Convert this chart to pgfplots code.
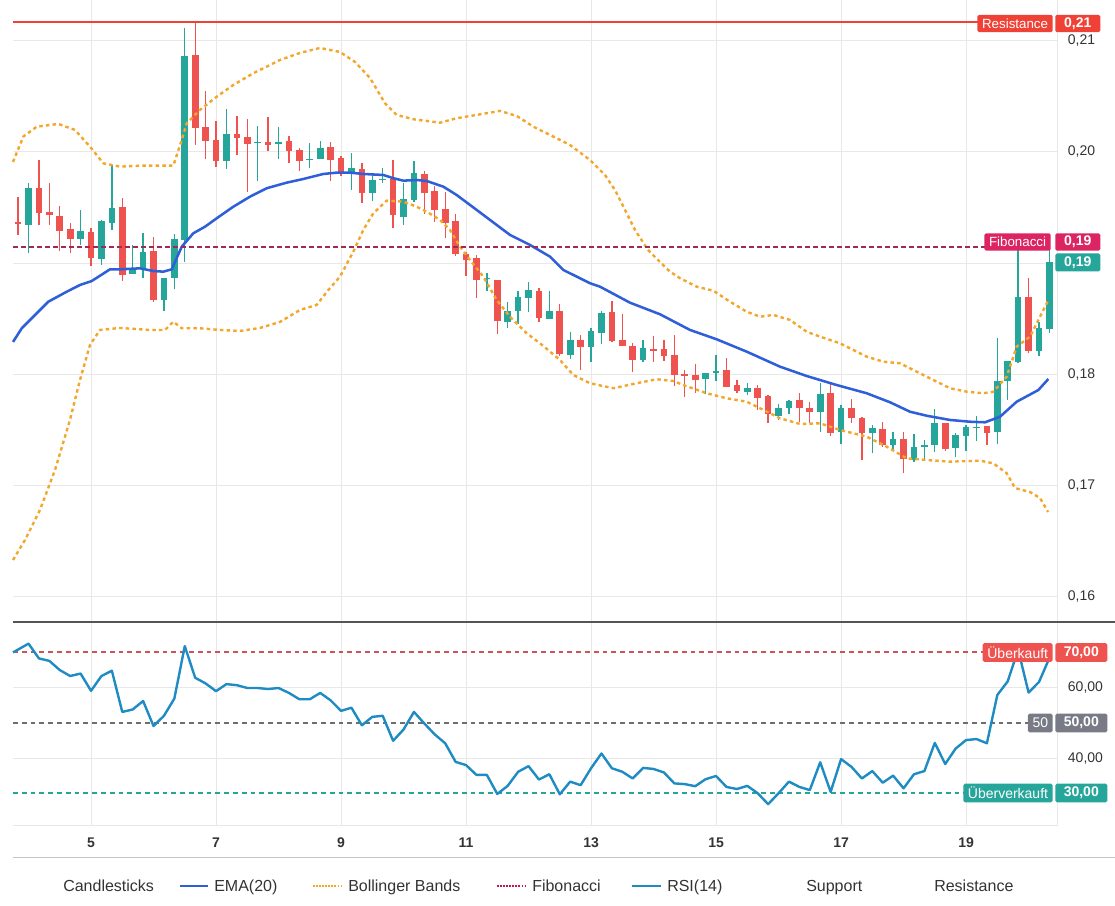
\documentclass[border=0pt]{standalone}
\usepackage{pgfplots}
\pgfplotsset{compat=1.18}
\usepackage{pgfplotstable}
\usepackage{fontspec}
\setmainfont{Liberation Sans}
\definecolor{upc}{HTML}{26A69A}
\definecolor{downc}{HTML}{EF5350}
\definecolor{emac}{HTML}{2F5FD8}
\definecolor{bbc}{HTML}{F2A62A}
\definecolor{fibc}{HTML}{9E2A55}
\definecolor{fibbox}{HTML}{DC2462}
\definecolor{fibleg}{HTML}{C2185B}
\definecolor{resc}{HTML}{EF4136}
\definecolor{rsic}{HTML}{1E8BC3}
\definecolor{obc}{HTML}{C9545A}
\definecolor{midc}{HTML}{6E6E6E}
\definecolor{midbox}{HTML}{787B86}
\definecolor{gridc}{HTML}{E8E8E8}
\definecolor{tickc}{HTML}{333333}
\definecolor{sepc}{HTML}{555555}

\pgfplotstableread{
i O H L C
1 0.19344 0.19724 0.19095 0.19674
6 0.19221 0.19479 0.19164 0.19290
8 0.19041 0.19389 0.18984 0.19382
9 0.19364 0.19883 0.19299 0.19494
11 0.18903 0.19164 0.18900 0.18939
12 0.18954 0.19275 0.18865 0.19098
14 0.18672 0.18870 0.18573 0.18870
15 0.18870 0.19260 0.18766 0.19218
16 0.19209 0.21117 0.19014 0.20863
20 0.19922 0.20387 0.19847 0.20162
23 0.20081 0.20234 0.19742 0.20090
25 0.20075 0.20227 0.19934 0.20087
28 0.19925 0.20078 0.19859 0.19937
29 0.19937 0.20099 0.19934 0.20033
32 0.19814 0.19994 0.19658 0.19856
34 0.19634 0.19814 0.19559 0.19748
35 0.19748 0.19859 0.19719 0.19757
37 0.19418 0.19719 0.19344 0.19577
38 0.19568 0.19919 0.19553 0.19811
45 0.18856 0.18910 0.18750 0.18865
47 0.18474 0.18654 0.18415 0.18571
48 0.18573 0.18750 0.18451 0.18694
49 0.18690 0.18834 0.18564 0.18759
51 0.18499 0.18753 0.18496 0.18571
53 0.18175 0.18384 0.18139 0.18310
55 0.18250 0.18415 0.18115 0.18391
56 0.18375 0.18571 0.18274 0.18555
60 0.18130 0.18310 0.18109 0.18238
66 0.17959 0.18011 0.17822 0.18011
67 0.18011 0.18175 0.17944 0.18034
70 0.17845 0.17921 0.17815 0.17881
73 0.17629 0.17735 0.17591 0.17701
74 0.17696 0.17770 0.17642 0.17761
77 0.17665 0.17921 0.17485 0.17824
79 0.17480 0.17726 0.17372 0.17696
82 0.17477 0.17546 0.17291 0.17521
84 0.17366 0.17485 0.17321 0.17417
86 0.17231 0.17465 0.17216 0.17345
87 0.17351 0.17411 0.17231 0.17366
88 0.17366 0.17690 0.17306 0.17566
90 0.17342 0.17477 0.17261 0.17456
91 0.17450 0.17546 0.17315 0.17530
92 0.17521 0.17627 0.17405 0.17530
94 0.17485 0.18331 0.17372 0.17941
95 0.17944 0.18121 0.17770 0.18121
96 0.18115 0.19179 0.18100 0.18699
98 0.18214 0.18474 0.18166 0.18415
99 0.18409 0.19164 0.18376 0.19014
}\greentab

\pgfplotstableread{
i O H L C
0 0.19373 0.19598 0.19254 0.19355
2 0.19674 0.19928 0.19344 0.19454
3 0.19461 0.19724 0.19344 0.19436
4 0.19425 0.19515 0.19113 0.19292
5 0.19305 0.19364 0.19095 0.19221
7 0.19278 0.19314 0.18975 0.19050
10 0.19506 0.19584 0.18843 0.18897
13 0.19110 0.19239 0.18654 0.18669
17 0.20872 0.21157 0.20063 0.20218
18 0.20227 0.20551 0.19934 0.20102
19 0.20108 0.20281 0.19862 0.19922
21 0.20162 0.20324 0.19973 0.20129
22 0.20138 0.20297 0.19643 0.20072
24 0.20090 0.20317 0.20012 0.20066
26 0.20102 0.20144 0.19898 0.20012
27 0.20018 0.20033 0.19832 0.19919
30 0.20048 0.20087 0.19739 0.19928
31 0.19946 0.19964 0.19784 0.19814
33 0.19847 0.19904 0.19544 0.19634
36 0.19757 0.19928 0.19319 0.19436
39 0.19802 0.19832 0.19443 0.19634
40 0.19649 0.19694 0.19373 0.19479
41 0.19488 0.19643 0.19230 0.19364
42 0.19380 0.19440 0.19068 0.19083
43 0.19083 0.19104 0.18885 0.19029
44 0.19047 0.19071 0.18690 0.18849
46 0.18849 0.18849 0.18361 0.18483
50 0.18750 0.18775 0.18474 0.18510
52 0.18571 0.18634 0.18169 0.18184
54 0.18310 0.18355 0.18040 0.18250
57 0.18559 0.18660 0.18289 0.18301
58 0.18310 0.18541 0.18256 0.18259
59 0.18256 0.18286 0.18025 0.18130
61 0.18229 0.18346 0.18115 0.18211
62 0.18229 0.18310 0.18124 0.18166
63 0.18175 0.18355 0.17899 0.17995
64 0.18004 0.18040 0.17800 0.17986
65 0.17995 0.18091 0.17836 0.17950
68 0.18040 0.18145 0.17885 0.17890
69 0.17905 0.17950 0.17831 0.17854
71 0.17881 0.17905 0.17681 0.17786
72 0.17806 0.17815 0.17566 0.17642
75 0.17770 0.17831 0.17575 0.17696
76 0.17701 0.17755 0.17566 0.17665
78 0.17831 0.17921 0.17447 0.17477
80 0.17696 0.17777 0.17566 0.17606
81 0.17606 0.17620 0.17231 0.17471
83 0.17507 0.17570 0.17351 0.17366
85 0.17417 0.17485 0.17112 0.17237
89 0.17566 0.17566 0.17315 0.17327
93 0.17537 0.17537 0.17366 0.17477
97 0.18699 0.18865 0.18190 0.18214
}\redtab

\begin{document}
\begin{tikzpicture}
\path[use as bounding box] (0pt,0pt) rectangle (836.25pt,679.5pt);

% ---------------- price panel ----------------
\begin{axis}[
  at={(9.75pt,213pt)}, anchor=south west,
  scale only axis, width=783pt, height=466.5pt,
  xmin=-0.49, xmax=99.73, ymin=0.15775, ymax=0.21366,
  axis x line*=bottom, axis y line*=right,
  x axis line style={draw=none},
  y axis line style={draw=gridc, line width=0.75pt},
  xtick={7,19,31,43,55,67,79,91}, xticklabels={},
  ytick={0.16,0.17,0.18,0.20,0.21},
  extra y ticks={0.19}, extra y tick labels={},
  grid=major, major grid style={draw=gridc, line width=0.75pt},
  major tick length=0pt,
  yticklabel style={font=\fontsize{10.5}{12}\selectfont, text=tickc, anchor=west, inner sep=0pt, xshift=8pt,
     /pgf/number format/.cd, fixed, fixed zerofill, precision=2, use comma},
  /pgf/number format/assume math mode=true,
  clip=false,
]
% wicks
\addplot[draw=none, forget plot, error bars/.cd, y dir=plus, y explicit, error mark=none,
  error bar style={draw=upc, line width=1pt}]
  table[x=i, y=L, y error expr=\thisrow{H}-\thisrow{L}] {\greentab};
\addplot[draw=none, forget plot, error bars/.cd, y dir=plus, y explicit, error mark=none,
  error bar style={draw=downc, line width=1pt}]
  table[x=i, y=L, y error expr=\thisrow{H}-\thisrow{L}] {\redtab};
% bodies
\addplot[draw=none, forget plot, error bars/.cd, y dir=plus, y explicit, error mark=none,
  error bar style={draw=upc, line width=5pt}]
  table[x=i, y=O, y error expr={max(\thisrow{C}-\thisrow{O},0.00008)}] {\greentab};
\addplot[draw=none, forget plot, error bars/.cd, y dir=plus, y explicit, error mark=none,
  error bar style={draw=downc, line width=5pt}]
  table[x=i, y=C, y error expr={max(\thisrow{O}-\thisrow{C},0.00008)}] {\redtab};

% Bollinger upper
\addplot[bbc, line width=1.8pt, dash pattern=on 2.6pt off 2.4pt] coordinates {
(-0.49,0.19910)(0.50,0.20138)(1.79,0.20227)(3.86,0.20252)(5.46,0.20198)(6.90,0.20048)(8.18,0.19898)(9.78,0.19868)(11.70,0.19877)(14.90,0.19877)(15.71,0.20108)(16.19,0.20258)(17.46,0.20378)(19.07,0.20497)(20.66,0.20602)(22.58,0.20708)(23.87,0.20767)(25.14,0.20827)(27.06,0.20890)(28.98,0.20935)(30.90,0.20899)(32.34,0.20809)(33.78,0.20665)(35.22,0.20438)(36.34,0.20333)(37.94,0.20294)(40.50,0.20263)(42.10,0.20303)(44.02,0.20333)(46.26,0.20369)(47.86,0.20324)(49.46,0.20227)(51.06,0.20153)(52.98,0.20063)(54.90,0.19928)(56.34,0.19793)(57.30,0.19658)(58.26,0.19479)(59.22,0.19299)(60.47,0.19119)(61.62,0.19011)(62.58,0.18924)(63.54,0.18865)(65.14,0.18789)(66.74,0.18753)(68.34,0.18654)(69.94,0.18564)(71.22,0.18519)(72.50,0.18535)(74.10,0.18490)(75.70,0.18384)(76.98,0.18340)(78.90,0.18280)(81.46,0.18160)(83.06,0.18115)(84.66,0.18100)(87.22,0.17980)(89.46,0.17876)(91.06,0.17845)(92.66,0.17831)(93.62,0.17845)(94.90,0.17980)(95.86,0.18250)(97.14,0.18340)(98.10,0.18519)(98.90,0.18669)
};
% Bollinger lower
\addplot[bbc, line width=1.8pt, dash pattern=on 2.6pt off 2.4pt] coordinates {
(-0.49,0.16332)(0.66,0.16512)(2.10,0.16782)(3.54,0.17141)(4.98,0.17591)(5.94,0.17950)(6.90,0.18265)(7.86,0.18400)(9.78,0.18418)(12.66,0.18400)(14.10,0.18400)(14.90,0.18474)(15.71,0.18415)(17.46,0.18415)(19.38,0.18400)(21.30,0.18391)(23.22,0.18418)(25.14,0.18472)(27.06,0.18580)(28.66,0.18625)(29.78,0.18759)(30.90,0.18879)(32.18,0.19104)(33.14,0.19299)(34.10,0.19449)(35.38,0.19562)(36.98,0.19553)(38.26,0.19508)(39.22,0.19463)(40.50,0.19389)(41.46,0.19299)(42.42,0.19149)(43.38,0.19029)(44.66,0.18879)(45.94,0.18669)(47.22,0.18519)(48.82,0.18370)(50.10,0.18280)(52.02,0.18130)(53.30,0.17995)(54.90,0.17921)(57.14,0.17876)(59.38,0.17921)(61.30,0.17957)(62.90,0.17941)(63.86,0.17905)(66.10,0.17831)(68.02,0.17786)(69.94,0.17755)(71.22,0.17696)(73.14,0.17606)(75.06,0.17555)(76.98,0.17561)(78.90,0.17501)(81.46,0.17441)(83.38,0.17351)(85.30,0.17246)(87.22,0.17231)(89.46,0.17216)(92.34,0.17225)(93.62,0.17201)(94.90,0.17112)(95.70,0.16979)(97.14,0.16943)(98.10,0.16889)(98.87,0.16764)
};
% EMA 20
\addplot[emac, line width=1.9pt, line join=round] coordinates {
(-0.49,0.18292)(0.35,0.18415)(2.90,0.18654)(4.67,0.18744)(5.94,0.18804)(7.07,0.18840)(8.82,0.18945)(9.78,0.18945)(11.70,0.18954)(12.98,0.18930)(13.94,0.18924)(14.75,0.18945)(15.71,0.19149)(16.82,0.19269)(17.94,0.19328)(19.07,0.19404)(20.66,0.19508)(22.26,0.19598)(23.87,0.19674)(25.78,0.19724)(27.38,0.19757)(29.30,0.19802)(30.58,0.19814)(31.86,0.19814)(33.14,0.19802)(35.06,0.19793)(36.02,0.19764)(36.98,0.19742)(38.26,0.19748)(39.22,0.19739)(40.82,0.19688)(42.10,0.19613)(44.02,0.19479)(45.94,0.19344)(47.22,0.19254)(49.14,0.19164)(51.06,0.19059)(52.34,0.18939)(54.90,0.18820)(55.86,0.18789)(58.74,0.18645)(61.62,0.18541)(64.50,0.18400)(67.06,0.18316)(69.94,0.18205)(73.14,0.18070)(75.70,0.17986)(78.58,0.17905)(81.46,0.17831)(83.70,0.17750)(85.62,0.17665)(87.22,0.17629)(89.46,0.17591)(91.38,0.17575)(92.82,0.17570)(94.26,0.17620)(95.86,0.17755)(97.94,0.17860)(98.90,0.17959)
};
% Fibonacci level
\addplot[fibc, line width=1.6pt, dash pattern=on 3.4pt off 2.6pt] coordinates {(-0.49,0.19146)(93.0,0.19146)};
% Resistance level
\addplot[resc, line width=1.5pt] coordinates {(-0.49,0.21169)(96.0,0.21169)};
\end{axis}

% ---------------- RSI panel ----------------
\begin{axis}[
  at={(9.75pt,60pt)}, anchor=south west,
  scale only axis, width=783pt, height=153pt,
  xmin=-0.49, xmax=99.73, ymin=20.7, ymax=78.65,
  axis x line*=bottom, axis y line*=right,
  axis line style={draw=gridc, line width=0.75pt},
  xtick={7,19,31,43,55,67,79,91}, xticklabels={5,7,9,11,13,15,17,19},
  ytick={40,60},
  grid=major, major grid style={draw=gridc, line width=0.75pt},
  major tick length=0pt,
  xticklabel style={font=\bfseries\fontsize{10.5}{12}\selectfont, text=tickc, anchor=center, yshift=-12.75pt},
  yticklabel style={font=\fontsize{10.5}{12}\selectfont, text=tickc, anchor=west, inner sep=0pt, xshift=8pt,
     /pgf/number format/.cd, fixed, fixed zerofill, precision=2, use comma},
  /pgf/number format/assume math mode=true,
  clip=false,
]
\addplot[obc, line width=1.5pt, dash pattern=on 3.6pt off 3pt] coordinates {(-0.49,70)(95,70)};
\addplot[midc, line width=1.5pt, dash pattern=on 3.6pt off 3pt] coordinates {(-0.49,50)(97,50)};
\addplot[upc, line width=1.5pt, dash pattern=on 3.6pt off 3pt] coordinates {(-0.49,30)(93,30)};
\addplot[rsic, line width=1.8pt, line join=round] coordinates {
(-0.49,70.0)(1,72.5)(2,68.3)(3,67.6)(4,65.0)(5,63.3)(6,64.0)(7,59.1)(8,63.3)(9,64.8)(10,53.1)(11,53.8)(12,56.2)(13,49.1)(14,52.0)(15,56.9)(16,71.8)(17,62.8)(18,61.2)(19,59.0)(20,61.0)(21,60.7)(22,59.9)(23,59.9)(24,59.6)(25,59.9)(26,58.5)(27,56.7)(28,56.7)(29,58.5)(30,56.4)(31,53.4)(32,54.3)(33,49.3)(34,51.7)(35,52.0)(36,44.9)(37,48.1)(38,53.1)(39,49.8)(40,46.7)(41,44.2)(42,38.9)(43,38.0)(44,35.2)(45,35.2)(46,29.8)(47,32.1)(48,36.1)(49,37.7)(50,33.9)(51,35.4)(52,29.7)(53,33.3)(54,32.3)(55,37.1)(56,41.3)(57,37.1)(58,36.1)(59,34.2)(60,37.2)(61,36.9)(62,35.9)(63,32.8)(64,32.6)(65,32.0)(66,34.0)(67,34.9)(68,31.8)(69,31.2)(70,32.1)(71,30.0)(72,26.9)(73,30.0)(74,33.3)(75,31.8)(76,30.9)(77,38.8)(78,30.4)(79,39.7)(80,37.5)(81,34.2)(82,36.3)(83,33.0)(84,35.0)(85,31.4)(86,35.4)(87,36.3)(88,44.3)(89,38.3)(90,42.7)(91,45.1)(92,45.4)(93,44.2)(94,57.9)(95,61.8)(96,70.8)(97,58.6)(98,61.6)(99,68.4)
};
\end{axis}

% ---------------- decorations (pixel coordinates) ----------------
\begin{scope}[x=0.75pt, y=-0.75pt, shift={(0pt,679.5pt)}]
\draw[sepc, line width=0.9pt] (13,622) -- (1115,622);
\draw[gridc!85!black, line width=0.6pt] (13,857) -- (1115,857);

\tikzset{lab/.style={text=white, inner xsep=3.5pt, inner ysep=0pt, rounded corners=1.2pt, font=\fontsize{10}{12}\selectfont},
         val/.style={text=white, inner sep=0pt, anchor=west, rounded corners=1.2pt, font=\bfseries\fontsize{10.5}{12}\selectfont}}
% price panel labels
\node[lab, fill=resc, anchor=east, minimum height=13pt] at (1053,23.5) {Resistance};
\node[val, fill=resc, minimum width=33.75pt, minimum height=13pt] at (1055,23.5) {0,21};
\node[lab, fill=fibbox, anchor=east, minimum height=13pt] at (1051,242) {Fibonacci};
\node[val, fill=fibbox, minimum width=33.75pt, minimum height=13pt] at (1055,242) {0,19};
\node[val, fill=upc, minimum width=33.75pt, minimum height=13.5pt] at (1055,262.5) {0,19};
% RSI labels
\node[lab, fill=downc, anchor=east, minimum height=14pt, font=\fontsize{10.5}{12}\selectfont] at (1053,652.5) {Überkauft};
\node[val, fill=downc, minimum width=39pt, minimum height=14pt] at (1055,652.5) {70,00};
\node[lab, fill=midbox, anchor=east, minimum height=14pt, font=\fontsize{10.5}{12}\selectfont] at (1053,723) {50};
\node[val, fill=midbox, minimum width=39pt, minimum height=14pt] at (1055,723) {50,00};
\node[lab, fill=upc, anchor=east, minimum height=14pt, font=\fontsize{10.5}{12}\selectfont] at (1053,793) {Überverkauft};
\node[val, fill=upc, minimum width=39pt, minimum height=14pt] at (1055,793) {30,00};

% legend
\tikzset{leg/.style={anchor=base west, inner sep=0pt, text=tickc, font=\fontsize{12}{14}\selectfont}}
\node[leg] at (63,892) {Candlesticks};
\draw[emac, line width=1.9pt] (180,886) -- (208,886);
\node[leg] at (214,892) {EMA(20)};
\draw[bbc, line width=1.5pt, dash pattern=on 1.2pt off 1.1pt] (313,886) -- (342,886);
\node[leg] at (348,892) {Bollinger Bands};
\draw[fibleg, line width=1.5pt, dash pattern=on 1.2pt off 1.1pt] (497,886) -- (526,886);
\node[leg] at (532,892) {Fibonacci};
\draw[rsic, line width=1.9pt] (632,886) -- (661,886);
\node[leg] at (667,892) {RSI(14)};
\node[leg] at (806,892) {Support};
\node[leg] at (934,892) {Resistance};
\end{scope}
\end{tikzpicture}
\end{document}
